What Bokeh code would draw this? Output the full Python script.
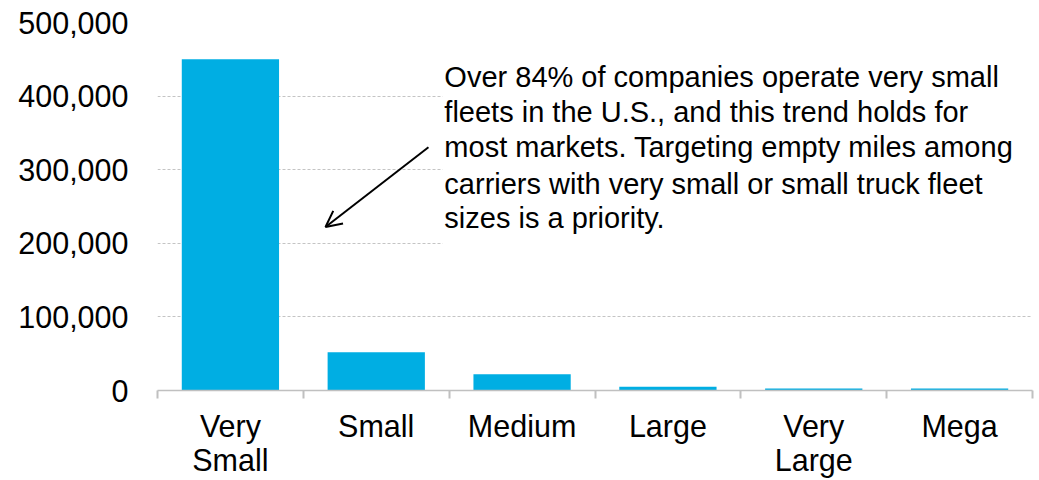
from bokeh.plotting import figure
from bokeh.models import (ColumnDataSource, Range1d, FixedTicker, NumeralTickFormatter,
                          Label, BoxAnnotation, Arrow, OpenHead)
from bokeh.embed import file_html
from bokeh.resources import INLINE

categories = ["Very\nSmall", "Small", "Medium", "Large", "Very\nLarge", "Mega"]
companies = [450000, 52000, 22000, 5000, 2800, 2800]
y_ticks = [0, 100000, 200000, 300000, 400000, 500000]
note_lines = [
    "Over 84% of companies operate very small",
    "fleets in the U.S., and this trend holds for",
    "most markets. Targeting empty miles among",
    "carriers with very small or small truck fleet",
    "sizes is a priority.",
]

FONT = "Liberation Sans"
BAR = "#00AEE3"
AXIS_FS = "30.5px"

xs = [i + 0.5 for i in range(len(categories))]
src = ColumnDataSource(dict(x=xs, top=companies, cat=categories))

p = figure(width=1036, height=480, output_backend="svg", toolbar_location=None,
           x_range=Range1d(0, len(categories)), y_range=Range1d(0, 500000),
           min_border_left=157, min_border_right=4, min_border_top=22, min_border_bottom=89)
p.outline_line_color = None
p.background_fill_color = "white"

p.vbar(x="x", top="top", width=0.667, source=src, fill_color=BAR, line_color=None)

# x axis
xa = p.xaxis[0]
xa.ticker = FixedTicker(ticks=xs, minor_ticks=list(range(len(categories) + 1)))
xa.major_label_overrides = {x: c for x, c in zip(xs, categories)}
xa.major_tick_line_color = None
xa.major_tick_out = 0
xa.major_tick_in = 0
xa.minor_tick_line_color = "#c0c0c0"
xa.minor_tick_line_width = 2
xa.minor_tick_out = 8
xa.minor_tick_in = 0
xa.axis_line_color = "#c0c0c0"
xa.axis_line_width = 1.5
xa.major_label_standoff = 10
xa.major_label_text_font = FONT
xa.major_label_text_font_size = AXIS_FS
xa.major_label_text_line_height = 1.02
xa.major_label_text_color = "black"

# y axis
ya = p.yaxis[0]
ya.ticker = FixedTicker(ticks=y_ticks)
ya.formatter = NumeralTickFormatter(format="0,0")
ya.axis_line_color = None
ya.major_tick_line_color = None
ya.minor_tick_line_color = None
ya.major_tick_out = 0
ya.major_label_standoff = 29
ya.major_label_text_font = FONT
ya.major_label_text_font_size = AXIS_FS
ya.major_label_text_color = "black"

p.xgrid.visible = False
p.ygrid.grid_line_color = "#c4c4c4"
p.ygrid.grid_line_dash = "3 2"
p.ygrid.grid_line_width = 1

# annotation box + text
p.add_layout(BoxAnnotation(left=1.954, right=6, bottom=190000, top=460000,
                           fill_color="white", fill_alpha=1.0, line_color=None))
centers = [426000, 378500, 330500, 281000, 235000]
for t, yc in zip(note_lines, centers):
    p.add_layout(Label(x=1.967, y=yc, text=t, text_font=FONT, text_font_size="29px",
                       text_color="black", text_baseline="middle", text_align="left"))

p.add_layout(Arrow(x_start=1.858, y_start=330600, x_end=1.152, y_end=222200,
                   line_color="black", line_width=2,
                   end=OpenHead(size=16, line_color="black", line_width=2)))

open("out.html", "w").write(file_html(p, INLINE))
